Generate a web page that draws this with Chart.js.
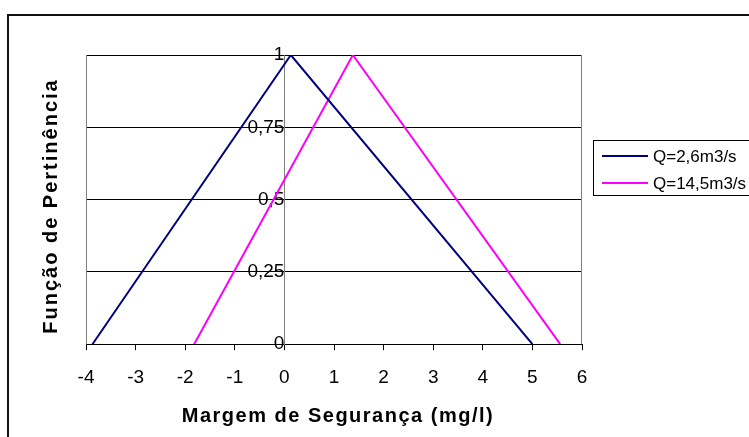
<!DOCTYPE html>
<html>
<head>
<meta charset="utf-8">
<script src="https://cdn.jsdelivr.net/npm/chart.js@4/dist/chart.umd.min.js"></script>
<style>
  html, body { margin: 0; padding: 0; background: #fff; }
  #wrap { width: 749px; height: 437px; }
</style>
</head>
<body>
<div id="wrap"><canvas id="pertinencia"></canvas></div>
<script>
// membership functions (triangles): x = margem, y = pertinência
const seriesNames = ['Q=2,6m3/s', 'Q=14,5m3/s'];
const seriesColors = ['#000080', '#FF00FF'];
const lowX = [-3.87, 0.13, 5.0];
const lowY = [0, 1, 0];
const highX = [-1.82, 1.38, 5.56];
const highY = [0, 1, 0];
const xTickLabels = ['-4', '-3', '-2', '-1', '0', '1', '2', '3', '4', '5', '6'];
const yTickLabels = ['0', '0,25', '0,5', '0,75', '1'];

const FONT = "'Liberation Sans', Arial, sans-serif";

function toPoints(xs, ys) {
    return xs.map((x, i) => ({ x: x, y: ys[i] }));
}

// frame, plot border, axis titles and legend
const decorations = {
    id: 'decorations',
    beforeDraw(chart) {
        const ctx = chart.ctx;
        ctx.save();
        ctx.fillStyle = '#fff';
        ctx.fillRect(0, 0, chart.width, chart.height);
        ctx.strokeStyle = '#111';
        ctx.lineWidth = 2;
        ctx.strokeRect(8, 15, chart.width + 20, chart.height + 20);
        ctx.restore();
    },
    afterDraw(chart) {
        const ctx = chart.ctx;
        const a = chart.chartArea;
        ctx.save();
        ctx.strokeStyle = '#808080';
        ctx.lineWidth = 1;
        ctx.beginPath();
        ctx.moveTo(a.left + 0.5, a.top);
        ctx.lineTo(a.left + 0.5, a.bottom);
        ctx.moveTo(a.right - 0.5, a.top);
        ctx.lineTo(a.right - 0.5, a.bottom);
        ctx.stroke();

        ctx.fillStyle = '#000';
        ctx.font = 'bold 20px ' + FONT;
        ctx.textAlign = 'center';
        ctx.textBaseline = 'middle';
        ctx.letterSpacing = '1.5px';
        ctx.fillText('Margem de Segurança (mg/l)', 338, 416);

        ctx.save();
        ctx.translate(51, 206);
        ctx.rotate(-Math.PI / 2);
        ctx.letterSpacing = '2px';
        ctx.fillText('Função de Pertinência', 0, 0);
        ctx.restore();

        // legend
        ctx.letterSpacing = '0px';
        ctx.strokeStyle = '#000';
        ctx.lineWidth = 1;
        ctx.strokeRect(593.5, 140.5, 200, 55);
        ctx.font = '17px ' + FONT;
        ctx.textAlign = 'left';
        chart.data.datasets.forEach((ds, i) => {
            const y = 156 + i * 27;
            ctx.strokeStyle = ds.borderColor;
            ctx.lineWidth = 2;
            ctx.beginPath();
            ctx.moveTo(602, y);
            ctx.lineTo(648, y);
            ctx.stroke();
            ctx.fillStyle = '#000';
            ctx.fillText(ds.label, 653, y + 1);
        });
        ctx.restore();
    }
};

new Chart(document.getElementById('pertinencia'), {
    type: 'line',
    data: {
        datasets: [
            {
                label: seriesNames[0],
                data: toPoints(lowX, lowY),
                borderColor: seriesColors[0],
                borderWidth: 2,
                pointRadius: 0,
                tension: 0,
                fill: false
            },
            {
                label: seriesNames[1],
                data: toPoints(highX, highY),
                borderColor: seriesColors[1],
                borderWidth: 2,
                pointRadius: 0,
                tension: 0,
                fill: false
            }
        ]
    },
    options: {
        responsive: true,
        maintainAspectRatio: false,
        animation: false,
        layout: {
            padding: { left: 86, right: 167, top: 55, bottom: 32 }
        },
        plugins: {
            legend: { display: false },
            tooltip: { enabled: false }
        },
        scales: {
            x: {
                type: 'linear',
                min: -4,
                max: 6,
                ticks: {
                    stepSize: 1,
                    padding: 16,
                    color: '#000',
                    font: { family: FONT, size: 19 },
                    callback: (v) => xTickLabels[Math.round(v) + 4]
                },
                grid: {
                    drawOnChartArea: false,
                    drawTicks: true,
                    tickLength: 6,
                    color: '#000'
                },
                border: { color: '#000', width: 1 }
            },
            y: {
                type: 'linear',
                position: { x: 0 },
                min: 0,
                max: 1,
                ticks: {
                    stepSize: 0.25,
                    padding: 14,
                    color: '#000',
                    font: { family: FONT, size: 19 },
                    callback: (v) => yTickLabels[Math.round(v * 4)]
                },
                grid: {
                    color: '#000',
                    lineWidth: 1,
                    drawTicks: false
                },
                border: { color: '#808080', width: 1 }
            }
        }
    },
    plugins: [decorations]
});
</script>
</body>
</html>
